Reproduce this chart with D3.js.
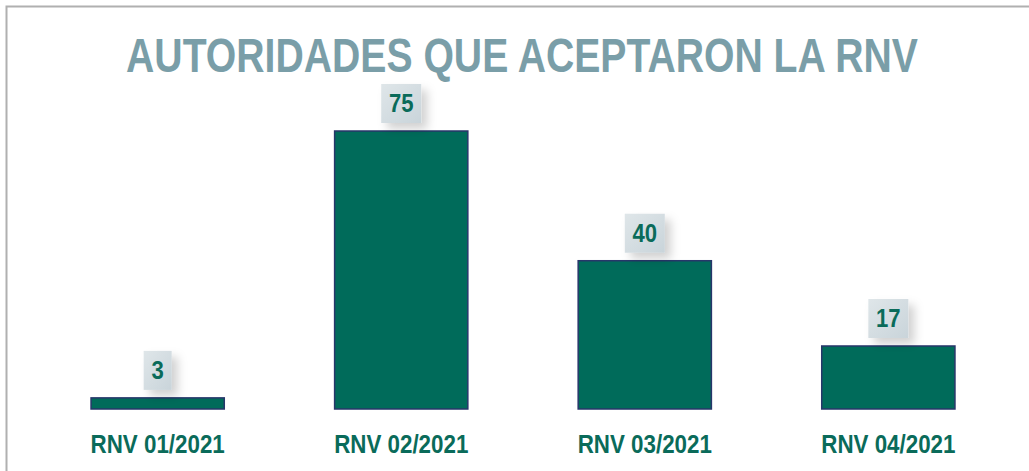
<!DOCTYPE html>
<html>
<head>
<meta charset="utf-8">
<script src="https://cdn.jsdelivr.net/npm/d3@7"></script>
<style>
  body { margin: 0; background: #fff; }
  svg { display: block; }
</style>
</head>
<body>
<div id="chart"></div>
<script>
const categories = ['RNV 01/2021', 'RNV 02/2021', 'RNV 03/2021', 'RNV 04/2021']
const values = [3, 75, 40, 17]
const title = 'AUTORIDADES QUE ACEPTARON LA RNV'

const width = 1029
const height = 471
const fontFam = '"Liberation Sans", Arial, sans-serif'

const svg = d3.select('#chart')
  .append('svg')
    .attr('width', width)
    .attr('height', height)

const defs = svg.append('defs')
const shadow = defs.append('filter')
  .attr('id', 'shadow')
  .attr('x', '-50%').attr('y', '-50%')
  .attr('width', '250%').attr('height', '250%')
shadow.append('feDropShadow')
  .attr('dx', 6).attr('dy', 6)
  .attr('stdDeviation', 5)
  .attr('flood-color', '#000')
  .attr('flood-opacity', 0.18)

const boxGrad = defs.append('linearGradient')
  .attr('id', 'boxGrad')
  .attr('x1', 0).attr('y1', 0).attr('x2', 1).attr('y2', 1)
boxGrad.append('stop').attr('offset', '0%').attr('stop-color', '#dfe6e9')
boxGrad.append('stop').attr('offset', '100%').attr('stop-color', '#c9d4da')

// frame
svg.append('path')
  .attr('d', 'M6.5,471 L6.5,6.5 L1029,6.5')
  .attr('fill', 'none')
  .attr('stroke', '#b0b0b0')
  .attr('stroke-width', 2)

// title, squeezed horizontally like a condensed face
const titleText = svg.append('text')
  .attr('text-anchor', 'middle')
  .attr('font-family', fontFam)
  .attr('font-weight', 'bold')
  .attr('font-size', 49)
  .attr('fill', '#7a9ea8')
  .text(title)
const tw = titleText.node().getComputedTextLength()
titleText.attr('transform', 'translate(522,72) scale(' + (792 / tw) + ',1)')

const x = d3.scaleBand()
  .domain(categories)
  .range([36, 1010])
  .paddingInner(0.453)
  .paddingOuter(0.226)

const y = d3.scaleLinear()
  .domain([0, 75])
  .range([409, 131])

const g = svg.append('g')

g.selectAll('rect.bar')
  .data(values)
  .join('rect')
    .attr('class', 'bar')
    .attr('x', (d, i) => x(categories[i]))
    .attr('y', d => y(d))
    .attr('width', x.bandwidth())
    .attr('height', d => y(0) - y(d))
    .attr('fill', '#006b5a')
    .attr('stroke', '#27366a')
    .attr('stroke-width', 1.5)

const labels = g.selectAll('g.lbl')
  .data(values)
  .join('g')
    .attr('class', 'lbl')
    .attr('transform', (d, i) => 'translate(' + (x(categories[i]) + x.bandwidth() / 2) + ',' + (y(d) - 8) + ')')

labels.append('rect')
  .attr('x', d => String(d).length > 1 ? -20 : -14)
  .attr('y', -39)
  .attr('width', d => String(d).length > 1 ? 40 : 28)
  .attr('height', 39)
  .attr('fill', 'url(#boxGrad)')
  .attr('filter', 'url(#shadow)')

labels.append('text')
  .attr('transform', 'translate(0,-11) scale(0.85,1)')
  .attr('text-anchor', 'middle')
  .attr('font-family', fontFam)
  .attr('font-weight', 'bold')
  .attr('font-size', 26)
  .attr('fill', '#0a6b5a')
  .text(d => d)

const xAxis = d3.axisBottom(x).tickSize(0).tickPadding(0)
const ax = svg.append('g')
  .attr('transform', 'translate(0,409)')
  .call(xAxis)
ax.select('.domain').remove()
ax.selectAll('.tick text')
  .attr('y', 0)
  .attr('dy', 0)
  .attr('transform', 'translate(0,44) scale(0.86,1)')
  .attr('font-family', fontFam)
  .attr('font-weight', 'bold')
  .attr('font-size', 26)
  .attr('fill', '#0a6b5a')
</script>
</body>
</html>
